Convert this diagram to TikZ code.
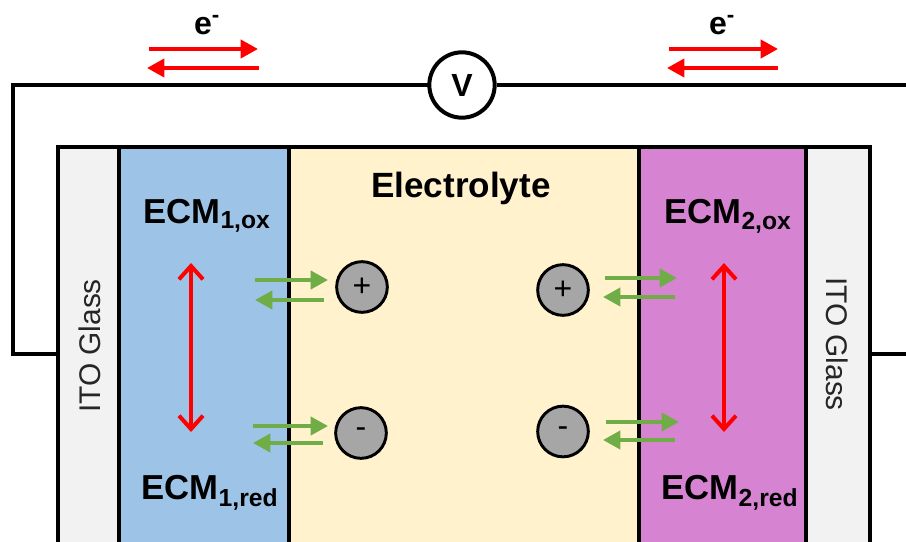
\documentclass[tikz,border=0pt]{standalone}
\usepackage{fontspec}
\setmainfont{Liberation Sans}
\usetikzlibrary{arrows.meta}
\definecolor{itogray}{HTML}{F2F2F2}
\definecolor{ecmblue}{HTML}{9DC3E6}
\definecolor{elecyellow}{HTML}{FFF2CC}
\definecolor{ecmpurple}{HTML}{D683D2}
\definecolor{iongray}{HTML}{A6A6A6}
\definecolor{arrowgreen}{HTML}{70AD47}
\tikzset{
  layer/.style={draw=black,line width=3pt,minimum height=420pt,anchor=north west,inner sep=0pt,outer sep=0pt},
  wire/.style={line width=3pt,draw=black},
  redarrow/.style={draw=red,line width=3pt,-{Triangle[length=13pt,width=13.5pt]}},
  dblarrow/.style={draw=red,line width=3pt,{Straight Barb[length=10pt,width=18pt,line width=3pt]}-{Straight Barb[length=10pt,width=18pt,line width=3pt]}},
  greenarrow/.style={draw=arrowgreen,line width=3pt,-{Triangle[length=13pt,width=13.5pt]}},
  ion/.style={circle,draw=black,line width=2.2pt,fill=iongray,inner sep=0pt,font=\fontsize{24}{26}\selectfont},
  ecm/.style={font=\fontsize{26}{30}\selectfont\bfseries,inner sep=0pt},
  ito/.style={rotate=90,font=\fontsize{22.4}{26}\selectfont,text=black!85,inner sep=0pt},
  elabel/.style={font=\fontsize{24}{28}\selectfont\bfseries,inner sep=0pt},
}
\newcommand{\ecmlabel}[2]{ECM\textsubscript{\fontsize{18.5}{20}\selectfont\bfseries #1,#2}}
\begin{document}
\begin{tikzpicture}[x=0.75pt,y=-0.75pt]
\useasboundingbox (0,0) rectangle (906,542);
\begin{scope}
\clip (0,0) rectangle (906,542);
\node[layer,fill=itogray,minimum width=46.5pt] (itoL) at (58,146.5) {};
\node[layer,fill=ecmblue,minimum width=127.5pt] (ecmL) at (119,146.5) {};
\node[layer,fill=elecyellow,minimum width=262.5pt] (elec) at (289,146.5) {};
\node[layer,fill=ecmpurple,minimum width=125pt] (ecmR) at (639,146.5) {};
\node[layer,fill=itogray,minimum width=48pt] (itoR) at (806,146.5) {};
\end{scope}
% wires
\node[circle,draw=black,line width=3pt,fill=white,minimum size=49pt,inner sep=0pt,font=\fontsize{24}{28}\selectfont\bfseries] (V) at (462,85) {V};
\coordinate (wl) at (13,85);
\coordinate (wlb) at (13,354);
\coordinate (il) at (57,354);
\coordinate (wr) at (906,85);
\coordinate (ir) at (870,354);
\coordinate (irr) at (906,354);
\draw[wire,line cap=rect,line join=miter] (V.west) -- (wl) -- (wlb) -- (il);
\draw[wire] (V.east) -- (wr);
\draw[wire] (ir) -- (irr);
% electron arrows
\node[elabel] (e1) at (207,25) {e\textsuperscript{-}};
\node[elabel] (e2) at (722,25) {e\textsuperscript{-}};
\coordinate (a1) at (149,49); \coordinate (a2) at (258,49);
\coordinate (a3) at (259,68); \coordinate (a4) at (147,68);
\coordinate (a5) at (669,49); \coordinate (a6) at (778,49);
\coordinate (a7) at (778,68); \coordinate (a8) at (667,68);
\draw[redarrow] (a1) -- (a2);
\draw[redarrow] (a3) -- (a4);
\draw[redarrow] (a5) -- (a6);
\draw[redarrow] (a7) -- (a8);
% ECM labels
\node[ecm] (l1) at (207,216) {\ecmlabel{1}{ox}};
\node[ecm] (l2) at (210,493) {\ecmlabel{1}{red}};
\node[ecm] (l3) at (728,216) {\ecmlabel{2}{ox}};
\node[ecm] (l4) at (730,493) {\ecmlabel{2}{red}};
\node[font=\fontsize{26.3}{30}\selectfont\bfseries,inner sep=0pt] (el) at (461,188) {Electrolyte};
\node[ito] (t1) at (90,346) {ITO Glass};
\node[ito,rotate=180] (t2) at (837,344) {ITO Glass};
% red double arrows
\coordinate (d1) at (191,263); \coordinate (d2) at (191,432);
\coordinate (d3) at (724,263); \coordinate (d4) at (724,432);
\draw[dblarrow] (d1) -- (d2);
\draw[dblarrow] (d3) -- (d4);
% ions
\node[ion,minimum size=38pt] (p1) at (362,287) {+};
\node[ion,minimum size=38pt] (m1) at (361,433) {-};
\node[ion,minimum size=38pt] (p2) at (563,290) {+};
\node[ion,minimum size=38pt] (m2) at (563,431.5) {-};
% green arrows
\coordinate (g1) at (255,280); \coordinate (g2) at (328,280);
\coordinate (g3) at (324,300); \coordinate (g4) at (255,300);
\coordinate (g5) at (253,426); \coordinate (g6) at (328,426);
\coordinate (g7) at (323,443); \coordinate (g8) at (253,443);
\coordinate (g9) at (605,278); \coordinate (g10) at (677,278);
\coordinate (g11) at (675,297); \coordinate (g12) at (603,297);
\coordinate (g13) at (606,422); \coordinate (g14) at (679,422);
\coordinate (g15) at (675,440); \coordinate (g16) at (603,440);
\draw[greenarrow] (g1) -- (g2);
\draw[greenarrow] (g3) -- (g4);
\draw[greenarrow] (g5) -- (g6);
\draw[greenarrow] (g7) -- (g8);
\draw[greenarrow] (g9) -- (g10);
\draw[greenarrow] (g11) -- (g12);
\draw[greenarrow] (g13) -- (g14);
\draw[greenarrow] (g15) -- (g16);
\end{tikzpicture}
\end{document}
